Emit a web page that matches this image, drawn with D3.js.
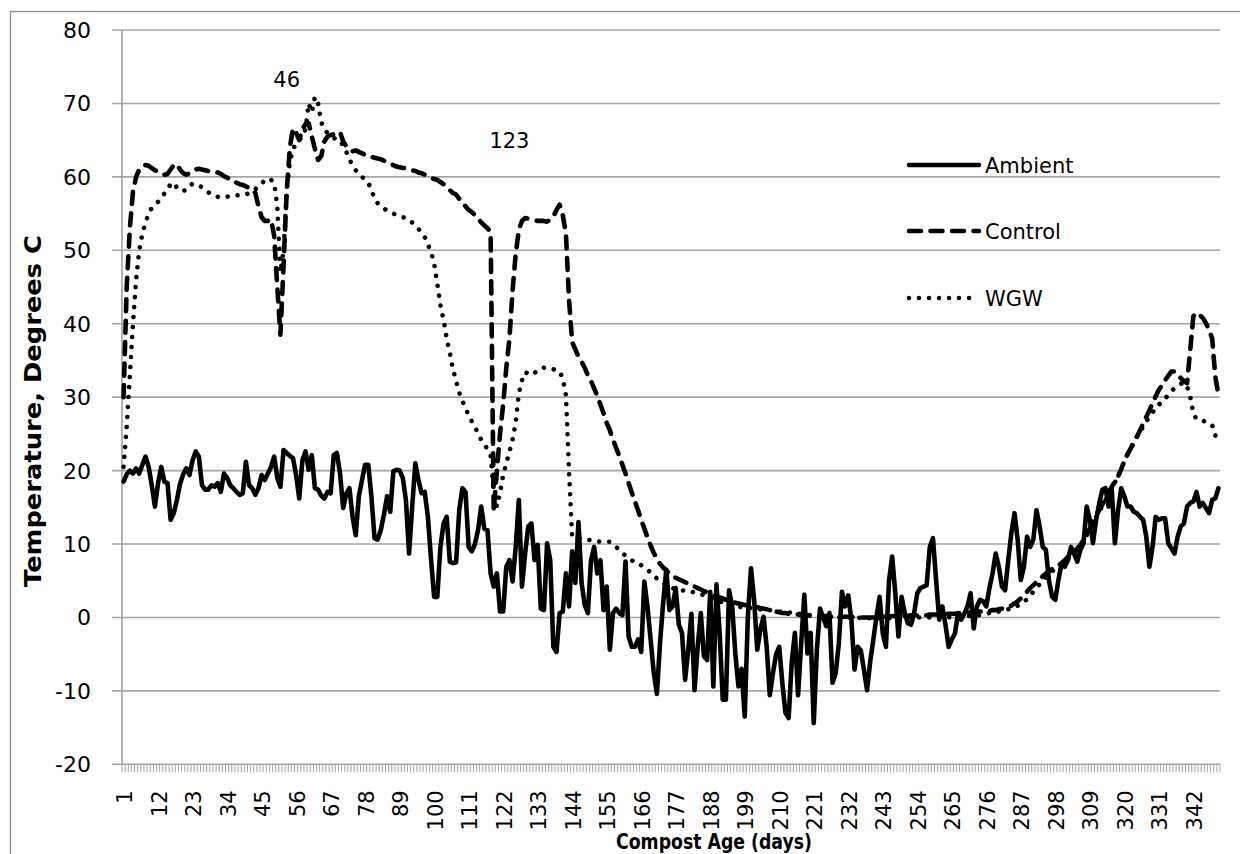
<!DOCTYPE html>
<html>
<head>
<meta charset="utf-8">
<script src="https://cdn.jsdelivr.net/npm/d3@7"></script>
<style>
  body { margin: 0; background: #fff; }
  text { font-family: "DejaVu Sans", sans-serif; fill: #000; }
</style>
</head>
<body>
<svg id="chart" width="1240" height="854"></svg>
<script>
// compost temperature log, one reading per day
const days = d3.range(1, 351);
const tickDays = [1, 12, 23, 34, 45, 56, 67, 78, 89, 100, 111, 122, 133, 144, 155, 166, 177, 188, 199, 210, 221, 232, 243, 254, 265, 276, 287, 298, 309, 320, 331, 342];
const yTicks = [-20, -10, 0, 10, 20, 30, 40, 50, 60, 70, 80];

const ambient = [
  18.5, 19.5, 20.0, 19.6, 20.3, 19.6, 20.8, 21.9, 20.5, 18.0,
  15.1, 18.3, 20.5, 18.5, 18.3, 13.3, 14.2, 16.0, 18.2, 19.5,
  20.3, 19.4, 21.4, 22.6, 21.9, 18.0, 17.4, 17.4, 18.0, 17.8,
  18.3, 17.1, 19.6, 19.0, 18.0, 17.6, 17.1, 16.7, 16.9, 21.2,
  18.0, 17.6, 16.7, 17.6, 19.4, 18.7, 19.6, 20.5, 21.9, 19.0,
  17.8, 22.8, 22.4, 22.0, 21.7, 19.4, 16.2, 21.4, 22.6, 20.1,
  22.1, 17.6, 17.4, 16.6, 16.2, 17.1, 16.9, 22.1, 22.4, 19.6,
  14.9, 16.9, 17.6, 13.7, 11.2, 16.5, 18.7, 20.8, 20.8, 16.5,
  10.8, 10.6, 11.9, 14.0, 16.5, 14.4, 19.9, 20.1, 20.0, 19.0,
  16.0, 8.7, 15.1, 21.0, 18.7, 16.9, 17.1, 13.7, 8.0, 2.8,
  2.8, 9.6, 12.8, 13.7, 7.6, 7.4, 7.5, 14.6, 17.6, 17.1,
  9.6, 9.0, 10.0, 11.9, 15.1, 12.1, 11.9, 6.0, 4.2, 6.0,
  0.8, 0.8, 6.9, 7.8, 4.9, 9.6, 16.0, 4.2, 8.7, 12.4,
  12.8, 7.8, 9.9, 1.2, 1.0, 10.1, 7.8, -4.0, -4.7, 0.6,
  0.8, 6.0, 1.5, 9.0, 4.7, 13.0, 4.7, 1.7, 0.6, 7.8,
  9.6, 6.0, 7.8, 1.0, 4.2, -4.4, 0.6, 1.2, 0.6, 0.3,
  7.6, -2.6, -4.0, -4.0, -3.0, -4.7, 4.9, 1.5, -3.0, -7.5,
  -10.4, -3.5, 2.0, 6.5, 1.0, 1.5, 4.0, -1.0, -2.1, -8.5,
  -4.4, 0.5, -9.9, -4.0, 0.6, -5.3, -5.8, 3.5, -9.4, 4.5,
  -2.1, -11.2, -11.2, 3.7, 1.5, -4.9, -9.4, -7.0, -13.5, 0.1,
  6.7, 2.4, -4.4, -1.6, 0.1, -4.0, -10.6, -7.6, -5.0, -4.0,
  -9.0, -13.0, -13.7, -6.0, -2.1, -10.6, -3.5, 3.1, -4.9, -2.1,
  -14.4, -4.4, 1.2, 0.0, -1.2, 0.6, -8.9, -7.6, -3.5, 3.5,
  1.5, 3.0, -0.3, -7.1, -4.0, -4.5, -7.1, -9.9, -6.0, -3.0,
  0.1, 2.8, -2.2, -4.0, 5.0, 8.3, 3.3, -2.6, 2.8, 0.6,
  -0.8, -1.0, 0.6, 3.3, 4.0, 4.2, 4.4, 9.6, 10.8, 5.1,
  -0.3, 1.5, -1.0, -4.0, -3.0, -2.2, 0.6, -0.3, 0.5, 1.5,
  3.3, -1.5, 1.5, 2.4, 2.2, 1.5, 4.0, 6.0, 8.7, 6.9,
  4.2, 3.7, 7.8, 11.5, 14.2, 10.6, 5.1, 6.9, 11.0, 9.6,
  10.6, 14.6, 12.4, 9.6, 9.2, 5.0, 2.8, 2.4, 5.1, 7.4,
  6.9, 7.8, 9.6, 8.7, 7.6, 9.2, 10.1, 15.1, 13.3, 10.1,
  13.3, 15.5, 17.4, 17.6, 15.1, 17.4, 10.1, 14.6, 17.6, 16.5,
  15.1, 15.1, 14.4, 14.2, 13.7, 13.3, 11.0, 6.9, 9.6, 13.7,
  13.3, 13.5, 13.5, 10.1, 9.4, 8.7, 11.0, 12.4, 12.8, 15.1,
  15.6, 15.8, 17.1, 15.1, 15.6, 14.9, 14.2, 16.0, 16.2, 17.6
];

const control = [
  30.0, 45.0, 53.0, 58.0, 60.0, 61.0, 61.4, 61.6, 61.5, 61.2,
  60.9, 60.7, 60.5, 60.3, 60.4, 61.0, 61.6, 61.7, 61.0, 60.5,
  60.3, 60.5, 60.8, 61.0, 61.1, 61.0, 60.9, 60.8, 60.8, 60.7,
  60.6, 60.4, 60.1, 59.9, 59.6, 59.4, 59.2, 59.0, 58.9, 58.7,
  58.5, 58.2, 57.8, 56.0, 54.5, 54.0, 54.0, 54.2, 52.0, 45.0,
  38.5, 48.0, 58.0, 64.0, 66.6, 66.0, 65.0, 66.5, 67.2, 67.3,
  65.5, 63.8, 62.3, 62.8, 64.8, 65.5, 65.7, 65.8, 66.0, 66.1,
  64.8, 64.2, 63.8, 63.5, 63.6, 63.4, 63.2, 63.0, 62.8, 62.7,
  62.6, 62.5, 62.4, 62.2, 62.0, 61.8, 61.6, 61.4, 61.3, 61.2,
  61.2, 61.0, 60.9, 60.8, 60.6, 60.5, 60.3, 60.1, 59.9, 59.7,
  59.6, 59.3, 59.0, 58.6, 58.2, 57.8, 57.6, 57.0, 56.5, 56.0,
  55.5, 55.2, 54.8, 54.3, 53.8, 53.4, 53.0, 52.5, 14.5, 20.0,
  25.0, 29.0, 34.0, 38.0, 44.5, 49.5, 52.8, 54.0, 54.4, 54.3,
  54.2, 54.1, 54.0, 54.0, 54.0, 53.9, 54.2, 54.6, 55.5, 56.2,
  54.8, 52.3, 43.2, 37.5, 36.5, 35.5, 34.8, 34.0, 33.0, 32.2,
  31.2, 30.2, 29.0, 27.8, 26.5, 25.5, 24.2, 23.1, 22.0, 20.8,
  19.6, 18.3, 17.0, 15.8, 14.6, 13.3, 12.1, 10.9, 9.8, 8.8,
  8.0, 7.3, 6.8, 6.4, 6.0, 5.7, 5.4, 5.2, 5.0, 4.8,
  4.6, 4.4, 4.2, 4.0, 3.8, 3.6, 3.4, 3.2, 3.0, 2.8,
  2.7, 2.6, 2.4, 2.3, 2.1, 2.0, 1.9, 1.8, 1.7, 1.6,
  1.5, 1.5, 1.4, 1.3, 1.2, 1.1, 1.0, 0.9, 0.8, 0.7,
  0.6, 0.6, 0.5, 0.5, 0.4, 0.4, 0.3, 0.3, 0.3, 0.2,
  0.2, 0.2, 0.2, 0.2, 0.2, 0.1, 0.1, 0.1, 0.1, 0.1,
  0.1, 0.1, 0.1, 0.0, 0.0, 0.0, 0.0, 0.0, 0.0, 0.0,
  0.0, 0.0, 0.1, 0.1, 0.1, 0.2, 0.2, 0.2, 0.2, 0.2,
  0.2, 0.3, 0.3, 0.3, 0.3, 0.3, 0.3, 0.4, 0.4, 0.4,
  0.4, 0.4, 0.5, 0.5, 0.5, 0.5, 0.5, 0.6, 0.6, 0.6,
  0.7, 0.7, 0.7, 0.8, 0.8, 0.9, 0.9, 1.0, 1.0, 1.1,
  1.2, 1.3, 1.4, 1.6, 1.9, 2.2, 2.6, 3.0, 3.5, 4.0,
  4.4, 4.8, 5.2, 5.6, 6.0, 6.3, 6.6, 6.9, 7.1, 7.4,
  7.8, 8.2, 8.6, 9.0, 9.4, 9.9, 10.5, 11.3, 12.1, 13.0,
  13.8, 14.6, 15.4, 16.2, 17.0, 17.8, 18.5, 19.2, 20.2, 21.3,
  22.2, 23.0, 23.8, 24.6, 25.5, 26.4, 27.3, 28.2, 29.2, 30.1,
  31.0, 31.6, 32.3, 32.9, 33.5, 33.5, 33.1, 32.6, 32.2, 31.9,
  36.4, 41.0, 41.5, 41.2, 40.8, 40.1, 39.2, 38.0, 32.8, 30.3
];

const wgw = [
  20.5, 26.0, 33.0, 40.0, 46.0, 50.0, 52.3, 53.8, 55.0, 55.8,
  56.2, 56.6, 57.2, 57.7, 58.3, 59.0, 59.2, 58.5, 58.1, 58.1,
  58.2, 58.7, 59.1, 59.0, 58.8, 58.6, 58.3, 57.9, 57.6, 57.4,
  57.3, 57.2, 57.2, 57.3, 57.4, 57.5, 57.5, 57.5, 57.5, 57.6,
  57.8, 58.0, 58.3, 58.8, 59.1, 59.5, 59.8, 59.6, 59.2, 56.0,
  47.0, 50.0, 58.0, 62.0, 63.8, 64.5, 65.0, 65.5, 66.5, 70.0,
  68.8, 70.9, 70.0, 67.5, 66.4, 66.0, 65.6, 65.3, 65.1, 65.0,
  64.2, 63.4, 62.4, 61.5, 60.9, 60.4, 60.0, 59.6, 59.2, 58.2,
  57.1, 56.4, 56.0, 55.7, 55.4, 55.2, 55.0, 54.8, 54.7, 54.5,
  54.4, 54.1, 53.8, 53.4, 52.9, 52.4, 51.8, 50.8, 49.8, 48.2,
  45.5, 42.5, 40.5, 38.0, 36.0, 33.8, 32.2, 30.6, 29.5, 28.5,
  27.5, 26.7, 26.0, 25.0, 24.2, 23.6, 22.9, 22.0, 17.0, 15.1,
  17.0, 19.4, 21.0, 22.6, 24.2, 26.5, 30.5, 32.3, 33.4, 33.2,
  33.0, 33.3, 33.6, 33.9, 34.0, 34.0, 33.9, 33.8, 33.6, 33.5,
  32.5, 30.3, 20.0, 11.0, 10.9, 10.8, 10.7, 10.6, 10.6, 10.5,
  10.5, 10.4, 10.3, 10.3, 10.3, 10.3, 10.0, 9.6, 9.2, 8.8,
  8.4, 8.1, 7.8, 7.5, 7.4, 7.1, 6.8, 6.5, 6.1, 5.7,
  5.3, 5.0, 4.7, 4.4, 4.2, 4.0, 3.8, 3.7, 3.7, 3.6,
  3.6, 3.5, 3.4, 3.3, 3.2, 3.0, 2.8, 2.6, 2.5, 2.3,
  2.2, 2.0, 1.9, 1.8, 1.7, 1.6, 1.5, 1.4, 1.4, 1.3,
  1.3, 1.2, 1.2, 1.1, 1.1, 1.0, 1.0, 0.9, 0.9, 0.8,
  0.8, 0.7, 0.7, 0.6, 0.6, 0.5, 0.5, 0.4, 0.4, 0.3,
  0.3, 0.3, 0.2, 0.2, 0.2, 0.1, 0.1, 0.1, 0.0, 0.0,
  0.0, 0.0, 0.0, 0.0, 0.0, -0.1, -0.1, -0.1, -0.1, -0.1,
  -0.1, -0.1, -0.1, -0.1, -0.1, -0.1, -0.1, 0.0, 0.0, 0.0,
  0.0, 0.0, 0.0, 0.0, 0.0, 0.0, 0.0, 0.0, 0.0, 0.0,
  0.0, 0.0, 0.0, 0.0, 0.1, 0.1, 0.1, 0.1, 0.1, 0.2,
  0.2, 0.2, 0.3, 0.3, 0.4, 0.5, 0.6, 0.6, 0.7, 0.8,
  0.9, 1.0, 1.1, 1.2, 1.4, 1.6, 1.8, 2.1, 2.5, 3.0,
  3.5, 4.0, 4.5, 5.0, 5.5, 6.0, 6.3, 6.6, 6.9, 7.2,
  7.6, 8.0, 8.4, 8.8, 9.3, 9.8, 10.4, 11.2, 12.0, 12.8,
  13.6, 14.4, 15.2, 16.0, 16.8, 17.6, 18.4, 19.2, 20.2, 21.3,
  22.2, 23.0, 23.8, 24.6, 25.3, 26.0, 26.7, 27.3, 27.9, 28.6,
  29.0, 29.3, 29.8, 30.3, 30.8, 31.2, 31.5, 31.8, 32.0, 31.5,
  30.1, 27.8, 27.0, 26.9, 26.8, 26.6, 26.4, 26.2, 24.8, 24.4
];

// text notes sitting on the plot (day, temperature)
const notes = [
  { text: "46", day: 52.5, temp: 73.3 },
  { text: "123", day: 124.3, temp: 64.9 }
];

const series = [
  { name: "Ambient", values: ambient, dash: null },
  { name: "Control", values: control, dash: "12,9.5" },
  { name: "WGW", values: wgw, dash: "0.01,10" }
];

const margin = { top: 30, right: 20, bottom: 89.7, left: 122 };
const width = 1240, height = 854;

const svg = d3.select("#chart");

// outer chart frame (only left and top edges fall inside the picture)
svg.append("rect")
  .attr("x", 10.5).attr("y", 11.5)
  .attr("width", 1300).attr("height", 1000)
  .attr("fill", "none")
  .attr("stroke", "#8e8e8e")
  .attr("stroke-width", 1.3);

const x = d3.scaleBand().domain(days).range([margin.left, width - margin.right]);
const y = d3.scaleLinear().domain([-20, 80]).range([height - margin.bottom, margin.top]);
const cx = d => x(d) + x.bandwidth() / 2;

// gridlines, with the little outside tick at the left
svg.append("g")
  .selectAll("line")
  .data(yTicks)
  .join("line")
  .attr("x1", margin.left - 10)
  .attr("x2", width - margin.right)
  .attr("y1", d => y(d))
  .attr("y2", d => y(d))
  .attr("stroke", "#a6a6a6")
  .attr("stroke-width", 1.6);

svg.append("line")
  .attr("x1", margin.left).attr("x2", margin.left)
  .attr("y1", y(80)).attr("y2", y(-20))
  .attr("stroke", "#a0a0a0")
  .attr("stroke-width", 1.6);

// one tick per category boundary
svg.append("g")
  .selectAll("line")
  .data(d3.range(days.length + 1))
  .join("line")
  .attr("x1", i => margin.left + i * x.bandwidth())
  .attr("x2", i => margin.left + i * x.bandwidth())
  .attr("y1", y(-20))
  .attr("y2", y(-20) + 8)
  .attr("stroke", "#a6a6a6")
  .attr("stroke-width", 1);

svg.append("g")
  .selectAll("text")
  .data(yTicks)
  .join("text")
  .attr("x", margin.left - 31)
  .attr("y", d => y(d))
  .attr("dy", "0.36em")
  .attr("text-anchor", "end")
  .attr("font-size", "22px")
  .text(d => d);

svg.append("g")
  .selectAll("text")
  .data(tickDays)
  .join("text")
  .attr("transform", d => `translate(${cx(d) + 1},${y(-20) + 26}) rotate(-90)`)
  .attr("dy", "0.36em")
  .attr("text-anchor", "end")
  .attr("font-size", "21px")
  .text(d => d);

const line = d3.line()
  .x((d, i) => cx(days[i]))
  .y(d => y(d));

svg.append("g")
  .selectAll("path")
  .data(series)
  .join("path")
  .attr("d", d => line(d.values))
  .attr("fill", "none")
  .attr("stroke", "#000")
  .attr("stroke-width", 4.6)
  .attr("stroke-linejoin", "round")
  .attr("stroke-linecap", "round")
  .attr("stroke-dasharray", d => d.dash);

svg.append("g")
  .selectAll("text")
  .data(notes)
  .join("text")
  .attr("x", d => cx(Math.round(d.day)))
  .attr("y", d => y(d.temp))
  .attr("dy", "0.36em")
  .attr("text-anchor", "middle")
  .attr("font-size", "21px")
  .text(d => d.text);

// legend
const legendY = [165, 231, 298];
const legend = svg.append("g")
  .selectAll("g")
  .data(series)
  .join("g")
  .attr("transform", (d, i) => `translate(907,${legendY[i]})`);

legend.append("line")
  .attr("x1", 2).attr("x2", d => d.name === "WGW" ? 66 : 72)
  .attr("stroke", "#000")
  .attr("stroke-width", 4.5)
  .attr("stroke-linecap", "round")
  .attr("stroke-dasharray", d => d.dash);

legend.append("text")
  .attr("x", 78)
  .attr("dy", "0.36em")
  .attr("font-size", "21px")
  .text(d => d.name);

// axis titles (narrow bold face in the original, so squeeze to its length)
svg.append("text")
  .attr("transform", `translate(33,411) rotate(-90)`)
  .attr("text-anchor", "middle")
  .attr("dy", "0.36em")
  .attr("font-size", "23px")
  .attr("font-weight", "bold")
  .attr("textLength", 352)
  .attr("lengthAdjust", "spacingAndGlyphs")
  .text("Temperature, Degrees C");

svg.append("text")
  .attr("x", 714)
  .attr("y", 849)
  .attr("text-anchor", "middle")
  .attr("font-size", "21px")
  .attr("font-weight", "bold")
  .attr("textLength", 196)
  .attr("lengthAdjust", "spacingAndGlyphs")
  .text("Compost Age (days)");
</script>
</body>
</html>
